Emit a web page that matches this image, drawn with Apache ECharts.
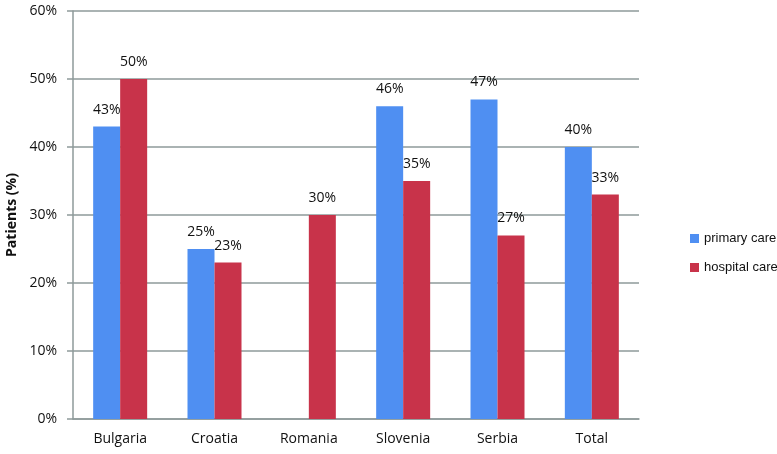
<!DOCTYPE html>
<html>
<head>
<meta charset="utf-8">
<script src="https://cdn.jsdelivr.net/npm/echarts@6/dist/echarts.min.js"></script>
<style>
  html, body { margin: 0; padding: 0; background: #fff; }
  #chart { width: 777px; height: 454px; }
</style>
</head>
<body>
<div id="chart"></div>
<script>
var countries = ['Bulgaria', 'Croatia', 'Romania', 'Slovenia', 'Serbia', 'Total'];
var primaryCare = [43, 25, null, 46, 47, 40];
var hospitalCare = [50, 23, 30, 35, 27, 33];

var font = '"Open Sans", "Noto Sans", sans-serif';
var chart = echarts.init(document.getElementById('chart'));

function barSeries(name, data, color) {
  return {
    name: name,
    type: 'bar',
    data: data,
    barWidth: 27,
    barGap: '0%',
    itemStyle: { color: color },
    label: {
      show: true,
      position: 'top',
      distance: 10,
      formatter: '{c}%',
      color: '#111',
      fontSize: 14,
      fontFamily: font
    }
  };
}

chart.setOption({
  animation: false,
  textStyle: { fontFamily: font },
  grid: { left: 73, right: 138, top: 11, bottom: 35, outerBoundsMode: 'none', containLabel: false },
  legend: {
    orient: 'vertical',
    left: 685,
    top: 227,
    itemWidth: 9,
    itemHeight: 9,
    itemGap: 16,
    icon: 'rect',
    textStyle: { fontSize: 13, color: '#111', fontFamily: '"Liberation Sans", sans-serif' }
  },
  xAxis: {
    type: 'category',
    data: countries,
    axisLine: { lineStyle: { color: '#8e9a9a', width: 1.5 } },
    axisTick: { show: false },
    axisLabel: { color: '#111', fontSize: 14, margin: 13 }
  },
  yAxis: {
    type: 'value',
    min: 0,
    max: 60,
    interval: 10,
    name: 'Patients (%)',
    nameLocation: 'middle',
    nameGap: 53,
    nameTextStyle: { fontWeight: 'bold', fontSize: 14, color: '#111' },
    axisLine: { show: true, lineStyle: { color: '#8e9a9a', width: 1.5 } },
    axisTick: { show: true, length: 6, lineStyle: { color: '#8e9a9a', width: 1.5 } },
    splitLine: { lineStyle: { color: '#8e9a9a', width: 1.5 } },
    axisLabel: { color: '#111', fontSize: 14, margin: 16, formatter: '{value}%' }
  },
  series: [
    barSeries('primary care', primaryCare, '#4f8ff2'),
    barSeries('hospital care', hospitalCare, '#c8334a')
  ]
});
</script>
</body>
</html>
